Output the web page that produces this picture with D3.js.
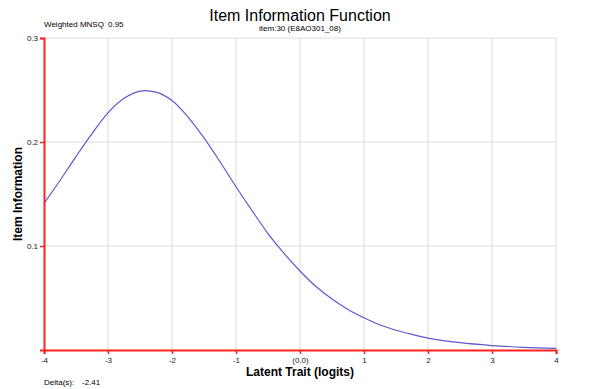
<!DOCTYPE html>
<html lang="en">
<head>
    <meta charset="UTF-8">
    <title>Item Information Function</title>
    <script src="https://d3js.org/d3.v7.min.js"></script>
    <style>
        body { margin: 0; background: #fff; font-family: Arial, "Liberation Sans", sans-serif; }
        svg { display: block; }
    </style>
</head>
<body>
    <div id="chart"></div>
    <script>
        // values
        const theta = [-4, -3.75, -3.5, -3.25, -3, -2.75, -2.5, -2.25, -2, -1.75, -1.5, -1.25, -1,
                       -0.75, -0.5, -0.25, 0, 0.25, 0.5, 0.75, 1, 1.25, 1.5, 1.75, 2, 2.5, 3, 3.5, 4];
        const info = [0.141, 0.163, 0.186, 0.208, 0.228, 0.242, 0.249, 0.248, 0.240, 0.224, 0.204, 0.181, 0.157,
                      0.134, 0.112, 0.093, 0.076, 0.061, 0.049, 0.039, 0.031, 0.024, 0.019, 0.015, 0.0115, 0.007, 0.0043, 0.0026, 0.0016];
        const xTicks = [-4, -3, -2, -1, 0, 1, 2, 3, 4];
        const xTickLabels = ["-4", "-3", "-2", "-1", "(0,0)", "1", "2", "3", "4"];
        const yTicks = [0.1, 0.2, 0.3];

        const width = 600, height = 389;
        const margin = { left: 44, right: 44, top: 38, bottom: 39 };

        const svg = d3.select("#chart").append("svg")
            .attr("width", width)
            .attr("height", height);

        const x = d3.scaleLinear().domain([-4, 4]).range([margin.left, width - margin.right]);
        const y = d3.scaleLinear().domain([0, 0.3]).range([height - margin.bottom, margin.top]);

        // grid
        svg.append("g").selectAll("line.vx")
            .data(xTicks.slice(1))
            .enter().append("line")
            .attr("x1", d => x(d)).attr("x2", d => x(d))
            .attr("y1", y(0.3)).attr("y2", y(0))
            .style("stroke", "#dcdcdc").style("stroke-width", 1);

        svg.append("g").selectAll("line.hy")
            .data(yTicks)
            .enter().append("line")
            .attr("x1", x(-4)).attr("x2", x(4))
            .attr("y1", d => y(d)).attr("y2", d => y(d))
            .style("stroke", "#dcdcdc").style("stroke-width", 1);

        // curve
        const line = d3.line()
            .x((d, i) => x(theta[i]))
            .y(d => y(d))
            .curve(d3.curveCatmullRom);

        svg.append("path")
            .datum(info)
            .attr("d", line)
            .style("fill", "none")
            .style("stroke", "#5a5acd")
            .style("stroke-width", 1.2);

        // axes
        const xAxis = svg.append("g")
            .attr("transform", `translate(0,${y(0)})`)
            .call(d3.axisBottom(x).tickValues(xTicks).tickSize(4).tickPadding(3)
                .tickFormat((d, i) => xTickLabels[i]));
        const yAxis = svg.append("g")
            .attr("transform", `translate(${x(-4)},0)`)
            .call(d3.axisLeft(y).tickValues(yTicks).tickSize(4).tickPadding(2)
                .tickFormat(d3.format(".1f")));

        [xAxis, yAxis].forEach(a => {
            a.select(".domain").style("stroke", "#ff2020").style("stroke-width", 2);
            a.selectAll(".tick line").style("stroke", "#ff2020").style("stroke-width", 1.5);
            a.selectAll(".tick text").style("font-family", "Arial, 'Liberation Sans', sans-serif")
                .style("font-size", "8px").style("fill", "#222");
        });

        // titles
        svg.append("text")
            .attr("x", 300).attr("y", 21)
            .attr("text-anchor", "middle")
            .style("font-size", "16px")
            .text("Item Information Function");

        svg.append("text")
            .attr("x", 300).attr("y", 31)
            .attr("text-anchor", "middle")
            .style("font-size", "8px")
            .text("item:30 (E8AO301_08)");

        svg.append("text")
            .attr("x", 44).attr("y", 27)
            .style("font-size", "8px")
            .text("Weighted MNSQ");
        svg.append("text")
            .attr("x", 108).attr("y", 27)
            .style("font-size", "8px")
            .text("0.95");

        svg.append("text")
            .attr("x", 300).attr("y", 376)
            .attr("text-anchor", "middle")
            .style("font-size", "12px").style("font-weight", "bold")
            .text("Latent Trait (logits)");

        svg.append("text")
            .attr("transform", "translate(22,194) rotate(-90)")
            .attr("text-anchor", "middle")
            .style("font-size", "12px").style("font-weight", "bold")
            .text("Item Information");

        svg.append("text")
            .attr("x", 44).attr("y", 385)
            .style("font-size", "8px")
            .text("Delta(s):");
        svg.append("text")
            .attr("x", 82).attr("y", 385)
            .style("font-size", "8px")
            .text("-2.41");
    </script>
</body>
</html>
